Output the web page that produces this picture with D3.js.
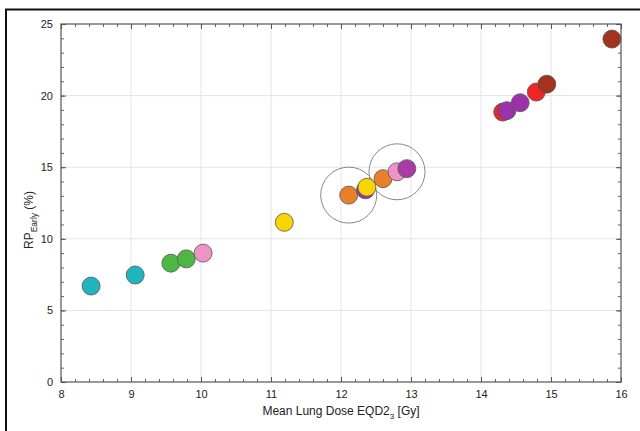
<!DOCTYPE html>
<html><head><meta charset="utf-8">
<script src="https://cdn.jsdelivr.net/npm/d3@7"></script>
<style>body{margin:0;background:#fff;}svg{display:block;font-family:"Liberation Sans",Arial,sans-serif;}</style>
</head><body>
<svg id="c" width="640" height="431"></svg>
<script>
// Data
const doseX = [8.43, 9.06, 9.57, 9.79, 10.03, 11.19, 12.11, 12.35, 12.37, 12.60, 12.80, 12.94, 14.31, 14.37, 14.56, 14.79, 14.94, 15.87];
const rpY   = [6.7, 7.47, 8.3, 8.6, 9.0, 11.15, 13.05, 13.42, 13.6, 14.2, 14.68, 14.9, 18.85, 18.95, 19.5, 20.25, 20.8, 23.95];
const groups = ["cyan","cyan","green","green","pink","yellow","orange","purple","yellow","orange","pink","magenta","red","purple","purple","red","brown","brown"];
const highlightIdx = [6, 10];
const xTicks = [8, 9, 10, 11, 12, 13, 14, 15, 16];
const yTicks = [0, 5, 10, 15, 20, 25];
const palette = {cyan:"#20b4bc", green:"#4cb843", pink:"#ef92c4", yellow:"#f8d400", orange:"#e8802a", purple:"#9c32aa", magenta:"#aa3aa6", red:"#f02525", brown:"#a3321f"};

const svg = d3.select("#c");
const m = {l:61, r:621, t:24, b:382};
const x = d3.scaleLinear().domain([8,16]).range([m.l, m.r]);
const y = d3.scaleLinear().domain([0,25]).range([m.b, m.t]);

// outer frame (top & left)
svg.append("line").attr("x1",5).attr("x2",640).attr("y1",9.5).attr("y2",9.5).attr("stroke","#111").attr("stroke-width",2);
svg.append("line").attr("x1",6).attr("x2",6).attr("y1",9).attr("y2",431).attr("stroke","#111").attr("stroke-width",2);

// grid
const g = svg.append("g");
g.selectAll(".gx").data(xTicks.slice(1,-1)).join("line")
  .attr("x1",d=>x(d)).attr("x2",d=>x(d)).attr("y1",m.t).attr("y2",m.b).attr("stroke","#e4e4e4").attr("stroke-width",1);
g.selectAll(".gy").data(yTicks.slice(1,-1)).join("line")
  .attr("y1",d=>y(d)).attr("y2",d=>y(d)).attr("x1",m.l).attr("x2",m.r).attr("stroke","#e4e4e4").attr("stroke-width",1);

// axes with inward ticks on all sides
const xMinor = d3.range(8, 16.0001, 0.2).map(v=>+v.toFixed(1));
const yMinor = d3.range(0, 25.0001, 1);
function axisSet(axisFn, scale, ticks, minor, transform, labels){
  const a = svg.append("g").attr("transform",transform);
  a.call(axisFn(scale).tickValues(minor).tickSize(-3).tickFormat(""));
  a.select(".domain").remove();
  a.selectAll("line").attr("stroke","#666");
  const b = svg.append("g").attr("transform",transform);
  b.call(axisFn(scale).tickValues(ticks).tickSize(-5).tickPadding(8).tickFormat(labels?d3.format("d"):""));
  b.select(".domain").remove();
  b.selectAll("line").attr("stroke","#555");
  b.selectAll("text").attr("fill","#222").style("font-size","11px").style("font-family","Liberation Sans, Arial, sans-serif");
  return b;
}
axisSet(d3.axisBottom, x, xTicks, xMinor, `translate(0,${m.b})`, true);
axisSet(d3.axisTop, x, xTicks, xMinor, `translate(0,${m.t})`, false);
axisSet(d3.axisLeft, y, yTicks, yMinor, `translate(${m.l},0)`, true);
axisSet(d3.axisRight, y, yTicks, yMinor, `translate(${m.r},0)`, false);
svg.append("rect").attr("x",m.l).attr("y",m.t).attr("width",m.r-m.l).attr("height",m.b-m.t)
  .attr("fill","none").attr("stroke","#555").attr("stroke-width",1.2);

// highlight circles
svg.selectAll(".hl").data(highlightIdx).join("circle")
  .attr("cx",i=>x(doseX[i])).attr("cy",i=>y(rpY[i])).attr("r",28)
  .attr("fill","none").attr("stroke","#888").attr("stroke-width",1);

// points
const pts = doseX.map((d,i)=>({x:d, y:rpY[i], c:groups[i]}));
svg.selectAll(".pt").data(pts).join("circle")
  .attr("cx",d=>x(d.x)).attr("cy",d=>y(d.y)).attr("r",9)
  .attr("fill",d=>palette[d.c]).attr("stroke","#555").attr("stroke-width",0.8);

// axis titles
const xt = svg.append("text").attr("x",341).attr("y",415).attr("text-anchor","middle")
  .attr("fill","#222").style("font-size","12px");
xt.append("tspan").text("Mean Lung Dose EQD2");
xt.append("tspan").attr("dy",4).style("font-size","8px").text("3");
xt.append("tspan").attr("dy",-4).text(" [Gy]");

const yt = svg.append("text").attr("transform","translate(33,220) rotate(-90)").attr("text-anchor","middle")
  .attr("fill","#222").style("font-size","12px");
yt.append("tspan").text("RP");
yt.append("tspan").attr("dy",4).style("font-size","8.5px").text("Early");
yt.append("tspan").attr("dy",-4).text(" (%)");
</script>
</body></html>
